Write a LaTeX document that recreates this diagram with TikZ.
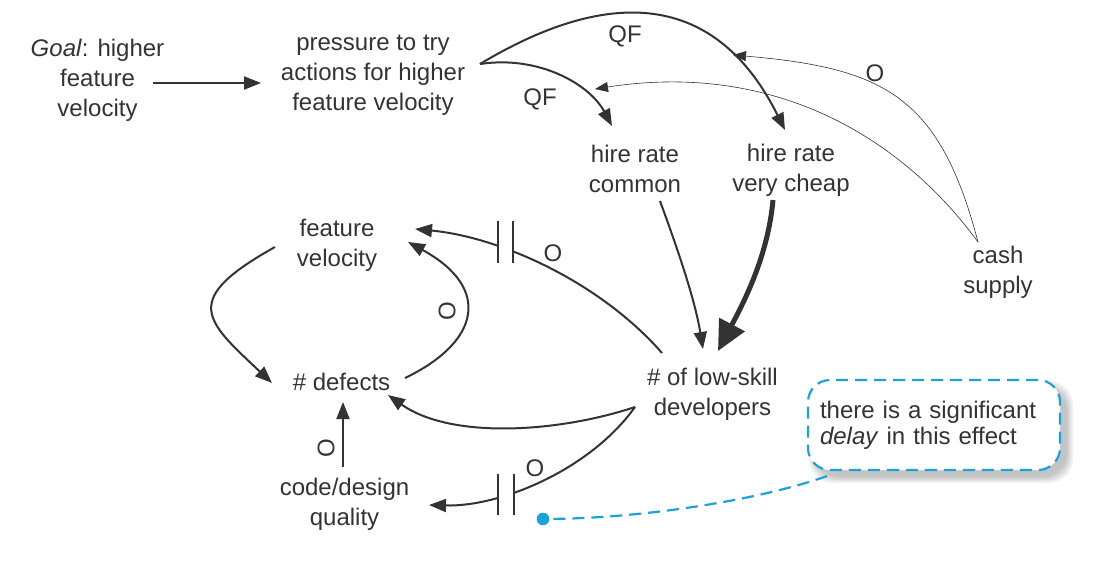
\documentclass[tikz,border=0pt]{standalone}
\usepackage{fontspec}
\setmainfont{Liberation Sans}
\usetikzlibrary{arrows.meta}
\definecolor{ink}{HTML}{333333}
\definecolor{callblue}{HTML}{1DA1DA}
\begin{document}
\begin{tikzpicture}[x=1pt,y=1pt,
  every node/.style={font=\fontsize{24}{30}\selectfont, text=ink, inner sep=0pt},
  var/.style={align=center},
  lk/.style={draw=ink, line width=2pt, -{Triangle[length=17pt,width=13pt]}},
  thinlk/.style={draw=ink, line width=0.6pt, -{Triangle[length=13pt,width=10pt]}},
  thicklk/.style={draw=ink, line width=5pt, -{Triangle[length=30pt,width=28pt]}},
  delaybar/.style={draw=ink, line width=2pt},
  calllink/.style={draw=callblue, line width=2.2pt, dash pattern=on 12pt off 7pt},
  callbox/.style={draw=callblue, line width=2.2pt, dash pattern=on 12pt off 7pt,
    rounded corners=22pt, fill=white, text width=228pt, align=left, inner sep=12pt,
    minimum height=90pt, font=\fontsize{24}{26}\selectfont}
]
\useasboundingbox (0,0) rectangle (1096,-574);

% variables
\node[var] (goal) at (97.5,-80.5) {\textit{Goal}: higher\\feature\\velocity};
\node[var] (press) at (373,-75.5) {pressure to try\\actions for higher\\feature velocity};
\node[var] (hrc) at (635,-168.5) {hire rate\\common};
\node[var] (hrv) at (791,-170.5) {hire rate\\very cheap};
\node[var] (cash) at (998,-272.5) {cash\\supply};
\node[var] (fv) at (337,-245.5) {feature\\velocity};
\node[var] (def) at (341.5,-381.5) {\# defects};
\node[var] (low) at (712.5,-394.5) {\# of low-skill\\developers};
\node[var] (code) at (344.5,-504.5) {code/design\\quality};

% link labels
\node (qf1) at (625,-36) {QF};
\node (qf2) at (540,-99) {QF};
\node (o1) at (875,-73) {O};
\node (o2) at (553,-253) {O};
\node[rotate=90] (o3) at (447,-311) {O};
\node (o4) at (535,-468) {O};
\node[rotate=90] (o5) at (326,-448) {O};

% free ends
\coordinate (tgt1) at (733,-55);
\coordinate (tgt2) at (595,-89);
\coordinate (dot) at (543,-519);

% links
\draw[lk] ([shift={(55.5,-2.5)}]goal.center) -- ([shift={(-112,-7.5)}]press.center);
\draw[lk] ([shift={(107,11.5)}]press.center) .. controls (540,-55) and (590,-85) .. ([shift={(-23,42.5)}]hrc.center);
\draw[lk] ([shift={(107,11.5)}]press.center) .. controls (620,20) and (720,0) .. ([shift={(-6,40.5)}]hrv.center);
\draw[thinlk] ([shift={(-20,30.5)}]cash.center) .. controls (939.5,-95) and (883,-68) .. (tgt1);
\draw[thinlk] ([shift={(-20,30.5)}]cash.center) .. controls (902,-138) and (775,-61) .. (tgt2);
\draw[lk] ([shift={(25,-32.5)}]hrc.center) .. controls (678,-250) and (695,-300) .. ([shift={(-9.5,45.5)}]low.center);
\draw[thicklk] ([shift={(-18,-29.5)}]hrv.center) .. controls (768,-255) and (745,-300) .. ([shift={(5.5,43.5)}]low.center);
\draw[lk] ([shift={(-50.5,41.5)}]low.center) .. controls (600,-282) and (500,-237) .. ([shift={(78,16.5)}]fv.center);
\draw[lk] ([shift={(-62,-1.5)}]fv.center) .. controls (180,-300) and (205,-320) .. ([shift={(-69.5,-1.5)}]def.center);
\draw[lk] ([shift={(63.5,3.5)}]def.center) .. controls (480,-342) and (492,-288) .. ([shift={(71,3.5)}]fv.center);
\draw[lk] ([shift={(-77.5,-12.5)}]low.center) .. controls (560,-432) and (452,-440) .. ([shift={(46.5,-13.5)}]def.center);
\draw[lk] ([shift={(-77.5,-12.5)}]low.center) .. controls (590,-470) and (500,-507) .. ([shift={(84.5,-0.5)}]code.center);
\draw[lk] ([shift={(-1.5,37.5)}]code.center) -- ([shift={(1.5,-20.5)}]def.center);

% delay marks
\fill[white] (499.2,-232) rectangle (512,-260);
\draw[delaybar] (498,-221) -- (498,-263) (513,-221) -- (513,-263);
\fill[white] (499.2,-481) rectangle (513,-506);
\draw[delaybar] (498,-474) -- (498,-515) (514,-474) -- (514,-515);

% callout shadow
\foreach \e in {0,1.5,3,4.5,6}
  \fill[black, opacity=0.05, rounded corners=24pt] (815-\e,-387+\e) rectangle (1067+\e,-477-\e);
% callout
\node[callbox] (call) at (934,-425) {there is a significant\\\textit{delay} in this effect};
\draw[calllink] ([shift={(-107,-51)}]call.center) .. controls (760,-500) and (640,-519) .. (dot);
\fill[callblue] (dot) circle (6.3pt);
\end{tikzpicture}
\end{document}
